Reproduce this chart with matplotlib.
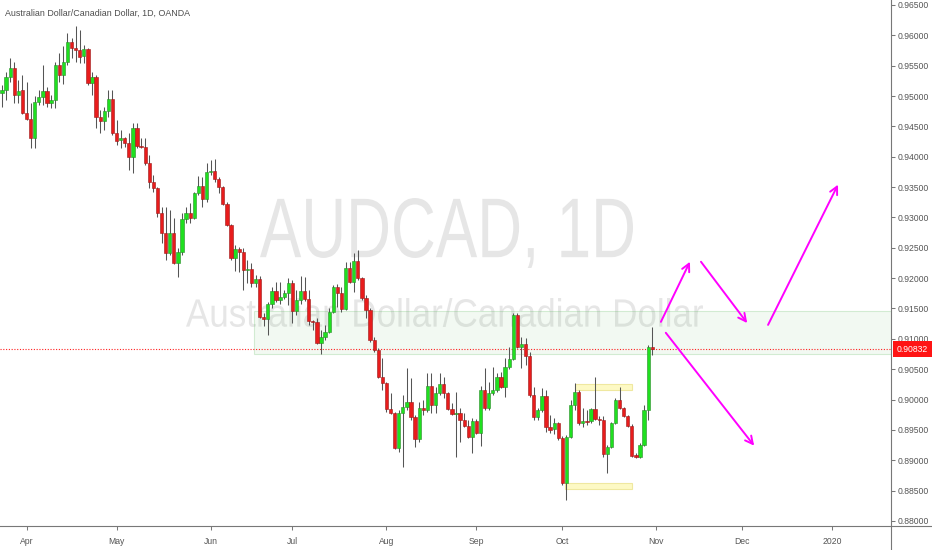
"""AUDCAD daily candles (OANDA), Mar-Oct 2019, with a resistance zone and projection arrows."""
import matplotlib
matplotlib.use("Agg")
import matplotlib.pyplot as plt
import numpy as np
import pandas as pd
from matplotlib.textpath import TextPath
from matplotlib.font_manager import FontProperties
from matplotlib.patches import PathPatch, Rectangle
from matplotlib.transforms import Affine2D, blended_transform_factory
from matplotlib.lines import Line2D

plt.rcParams["font.family"] = ["Liberation Sans", "DejaVu Sans"]

# ----------------------------------------------------------------------------
# Daily OHLC, one bar per business day starting 2019-03-22
start_day = "2019-03-22"
opens = [
    .9505, .9510, .9531, .9546, .9502, .9510, .9472, .9462, .9431, .9490,
    .9498, .9508, .9489, .9493, .9551, .9535, .9556, .9589, .9579, .9576,
    .9566, .9577, .9521, .9531, .9465, .9459, .9475, .9495, .9439, .9428,
    .9431, .9423, .9400, .9447, .9418, .9416, .9390, .9358, .9348, .9307,
    .9274, .9241, .9274, .9225, .9243, .9297, .9307, .9299, .9340, .9352,
    .9330, .9375, .9376, .9363, .9350, .9322, .9288, .9233, .9248, .9243,
    .9213, .9215, .9192, .9199, .9136, .9133, .9157, .9179, .9164, .9169,
    .9176, .9192, .9146, .9164, .9179, .9166, .9129, .9128, .9093, .9103,
    .9111, .9144, .9185, .9176, .9149, .9217, .9194, .9228, .9200, .9167,
    .9148, .9098, .9082, .9037, .9027, .8984, .8978, .8920, .8978, .8988,
    .8996, .8971, .8935, .8986, .8983, .9022, .8991, .9011, .9026, .9011,
    .8984, .8976, .8978, .8966, .8956, .8938, .8965, .8945, .9016, .8986,
    .9011, .9016, .9037, .9021, .9054, .9067, .9139, .9087, .9092, .9072,
    .9007, .8971, .8983, .9006, .8955, .8951, .8961, .8937, .8862, .8938,
    .8991, .9012, .8961, .8965, .8965, .8984, .8968, .8966, .8910, .8922,
    .8961, .8999, .8986, .8973, .8956, .8909, .8905, .8925, .8983, .9087,
]
highs = [
    .9518, .9540, .9563, .9556, .9526, .9535, .9523, .9489, .9500, .9510,
    .9551, .9515, .9502, .9556, .9571, .9582, .9604, .9596, .9615, .9609,
    .9584, .9579, .9540, .9535, .9477, .9482, .9510, .9510, .9461, .9444,
    .9433, .9439, .9456, .9456, .9431, .9431, .9403, .9370, .9350, .9317,
    .9317, .9312, .9299, .9250, .9307, .9317, .9324, .9342, .9368, .9367,
    .9390, .9395, .9396, .9367, .9352, .9325, .9289, .9255, .9251, .9250,
    .9230, .9225, .9205, .9204, .9143, .9161, .9185, .9194, .9194, .9180,
    .9200, .9197, .9180, .9204, .9202, .9180, .9131, .9134, .9115, .9123,
    .9151, .9189, .9190, .9185, .9227, .9227, .9241, .9246, .9202, .9172,
    .9151, .9103, .9085, .9068, .9029, .9011, .8979, .8983, .9007, .9052,
    .9036, .8975, .8996, .8999, .9044, .9044, .9021, .9044, .9037, .9012,
    .8994, .9012, .8986, .8978, .8966, .8970, .8968, .9022, .9052, .9029,
    .9054, .9044, .9045, .9068, .9087, .9143, .9143, .9103, .9101, .9078,
    .9021, .8986, .9019, .9016, .8975, .8970, .8963, .8940, .8942, .8999,
    .9027, .9016, .8986, .8983, .8986, .9037, .8973, .8973, .8925, .8963,
    .9003, .9021, .8988, .8975, .8960, .8912, .8928, .8991, .9090, .9120,
]
lows = [
    .9482, .9493, .9523, .9489, .9489, .9470, .9461, .9414, .9414, .9485,
    .9485, .9482, .9480, .9480, .9523, .9520, .9551, .9563, .9556, .9554,
    .9554, .9518, .9502, .9447, .9439, .9444, .9465, .9436, .9419, .9414,
    .9416, .9378, .9373, .9414, .9414, .9386, .9348, .9342, .9301, .9258,
    .9230, .9238, .9223, .9202, .9238, .9291, .9291, .9297, .9337, .9317,
    .9325, .9370, .9358, .9340, .9320, .9286, .9230, .9212, .9210, .9180,
    .9192, .9185, .9185, .9134, .9121, .9106, .9151, .9161, .9157, .9166,
    .9156, .9126, .9139, .9157, .9162, .9123, .9115, .9092, .9075, .9098,
    .9110, .9143, .9152, .9144, .9148, .9192, .9177, .9197, .9164, .9134,
    .9095, .9078, .9036, .9016, .8979, .8976, .8919, .8914, .8889, .8983,
    .8966, .8922, .8930, .8975, .8979, .8978, .8978, .9007, .9003, .8983,
    .8975, .8905, .8930, .8955, .8936, .8912, .8943, .8923, .8983, .8983,
    .9007, .9012, .9019, .9004, .9050, .9065, .9085, .9052, .9057, .9004,
    .8966, .8966, .8979, .8947, .8945, .8943, .8933, .8859, .8835, .8937,
    .8983, .8958, .8955, .8958, .8961, .8966, .8958, .8905, .8879, .8920,
    .8960, .8984, .8971, .8955, .8905, .8904, .8904, .8923, .8966, .9073,
]
closes = [
    .9510, .9531, .9546, .9502, .9508, .9472, .9462, .9431, .9490, .9498,
    .9508, .9489, .9493, .9551, .9535, .9556, .9589, .9579, .9576, .9564,
    .9577, .9521, .9531, .9465, .9459, .9475, .9495, .9439, .9426, .9431,
    .9423, .9400, .9447, .9418, .9416, .9390, .9358, .9348, .9307, .9274,
    .9241, .9274, .9225, .9243, .9297, .9307, .9299, .9340, .9352, .9330,
    .9375, .9376, .9363, .9350, .9322, .9288, .9233, .9248, .9243, .9213,
    .9215, .9192, .9199, .9136, .9133, .9157, .9179, .9164, .9169, .9176,
    .9192, .9146, .9164, .9179, .9166, .9129, .9128, .9093, .9103, .9111,
    .9144, .9185, .9176, .9149, .9217, .9194, .9228, .9200, .9167, .9148,
    .9098, .9082, .9037, .9027, .8984, .8978, .8920, .8978, .8988, .8996,
    .8971, .8935, .8986, .8983, .9022, .8991, .9011, .9026, .9011, .8984,
    .8976, .8978, .8966, .8956, .8938, .8965, .8945, .9016, .8986, .9011,
    .9016, .9037, .9021, .9054, .9067, .9139, .9087, .9092, .9072, .9007,
    .8971, .8983, .9006, .8955, .8950, .8961, .8937, .8862, .8938, .8991,
    .9012, .8961, .8965, .8963, .8984, .8968, .8966, .8910, .8922, .8961,
    .8999, .8986, .8973, .8956, .8907, .8905, .8925, .8983, .9087, .90832,
]

# drawings on the chart: zone, two yellow ranges, four projection arrows
zone = (61.7, 0.9075, 0.9146)                # x start (bar), low, high
ranges = [(137.7, 154.0, 0.8853, 0.8862),     # x0, x1, low, high
          (140.1, 154.0, 0.9015, 0.9026)]
arrows = [((161.1, 0.9128), (168.2, 0.9227)),  # (start, tip)
          ((170.9, 0.9227), (182.2, 0.9126)),
          ((187.3, 0.9123), (204.4, 0.9354)),
          ((162.3, 0.9110), (183.9, 0.8924))]

price_ticks = np.arange(0.880, 0.9651, 0.005)

# ----------------------------------------------------------------------------
W, H = 932, 550
fig = plt.figure(figsize=(W / 100, H / 100), dpi=100)
ax = fig.add_axes([0, 24 / H, 891 / W, 526 / H])

o, h, l, c = map(np.array, (opens, highs, lows, closes))
x = np.arange(len(o))
up = c >= o
ax.vlines(x, l, h, color="#555555", lw=0.75, zorder=2)
bot = np.minimum(o, c)
hgt = np.maximum(np.abs(c - o), 0.00006)
ax.bar(x[up], hgt[up], bottom=bot[up], width=0.8, color="#1fe01f",
       edgecolor="#2b8a2b", lw=0.4, zorder=3)
ax.bar(x[~up], hgt[~up], bottom=bot[~up], width=0.8, color="#e81c1c",
       edgecolor="#9a1818", lw=0.4, zorder=3)

ax.set_xlim(-0.49, 217.36)
ax.set_ylim(0.87917, 0.96582)


def watermark(text, x0, x1, ybot, ytop, color):
    # fit a text outline into a pixel box (pixel y measured from the top)
    tp = TextPath((0, 0), text, size=1, prop=FontProperties(family="Liberation Sans"))
    e = tp.get_extents()
    sx = (x1 - x0) / e.width
    sy = (ybot - ytop) / e.height
    tr = (Affine2D().translate(-e.x0, -e.y0).scale(sx, sy)
          .translate(x0, H - ybot).scale(1 / W, 1 / H) + fig.transFigure)
    ax.add_patch(PathPatch(tp, transform=tr, fc=color, ec="none", zorder=0.5))


watermark("AUDCAD, 1D", 260, 633, 268, 198, "#e6e6e6")
watermark("Australian Dollar/Canadian Dollar", 186, 703, 327, 298, "#e6e6e6")

zx, zlo, zhi = zone
ax.add_patch(Rectangle((zx, zlo), 400, zhi - zlo, fc=(0.30, 0.69, 0.31, 0.07),
                       ec=(0.30, 0.69, 0.31, 0.22), lw=0.8, zorder=1))
for x0, x1, lo, hi in ranges:
    ax.add_patch(Rectangle((x0, lo), x1 - x0, hi - lo, fc="#fdf9c4",
                           ec="#efe8a0", lw=0.8, zorder=1.5))

last = closes[-1]
ax.axhline(last, color="#ff2020", ls=(0, (1, 1.5)), lw=0.8, zorder=1.8)

for start, tip in arrows:
    ax.annotate("", xy=tip, xytext=start,
                arrowprops=dict(arrowstyle="->,head_length=0.55,head_width=0.28",
                                color="#ff00ff", lw=1.4, shrinkA=0, shrinkB=0))

# axes styling
for s in ("left", "top"):
    ax.spines[s].set_visible(False)
for s in ("right", "bottom"):
    ax.spines[s].set_color("#787878")
    ax.spines[s].set_linewidth(0.8)

ax.yaxis.tick_right()
ax.set_yticks(price_ticks)
ax.set_yticklabels([f"{v:.5f}" for v in price_ticks])
ax.tick_params(axis="y", direction="out", length=3, width=0.75, color="#787878",
               labelsize=6.2, labelcolor="#555555", pad=1.5)

days = pd.bdate_range(start_day, "2020-01-31")
firsts = [i for i in range(1, len(days)) if days[i].month != days[i - 1].month]
ax.set_xticks(firsts)
ax.set_xticklabels([str(days[i].year) if days[i].month == 1 else days[i].strftime("%b")
                    for i in firsts])
ax.tick_params(axis="x", direction="out", length=3, width=0.75, color="#787878",
               labelsize=6.2, labelcolor="#555555", pad=5)

ax.annotate(f"{last:.5f}", xy=(1.0, last),
            xycoords=blended_transform_factory(ax.transAxes, ax.transData),
            xytext=(4, 0), textcoords="offset points", ha="left", va="center",
            fontsize=6.2, color="white", annotation_clip=False, zorder=10,
            bbox=dict(boxstyle="square,pad=0.45", fc="#ff1414", ec="none"))

fig.add_artist(Line2D([891 / W, 1], [24 / H, 24 / H], color="#787878", lw=0.8))
fig.add_artist(Line2D([891 / W, 891 / W], [0, 24 / H], color="#787878", lw=0.8))

fig.text(5 / W, 1 - 13 / H, "Australian Dollar/Canadian Dollar, 1D, OANDA",
         ha="left", va="center", fontsize=6.4, color="#4d4d4d")

fig.savefig("out.png", dpi=100)
plt.close(fig)
